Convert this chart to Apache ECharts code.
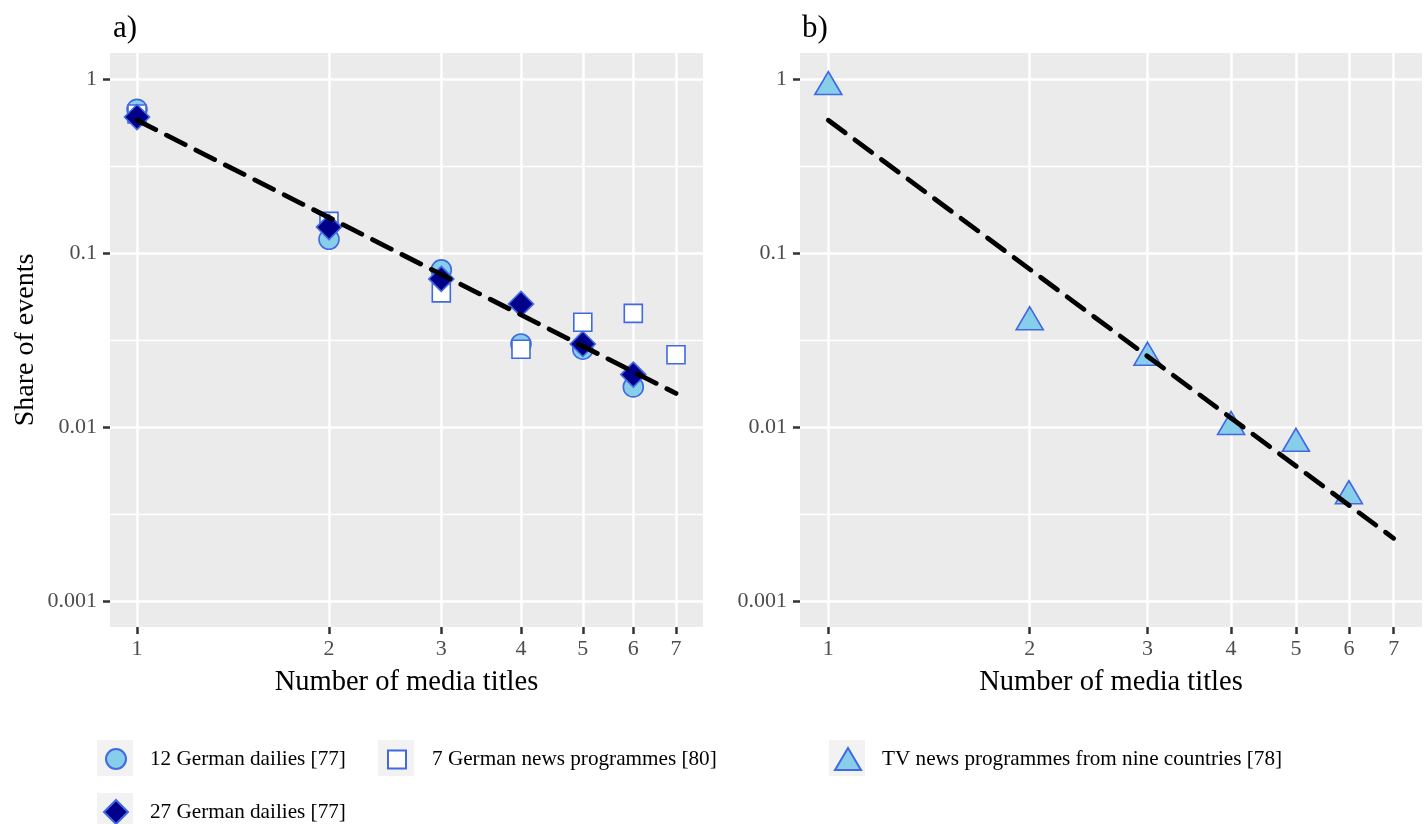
<!DOCTYPE html>
<html><head><meta charset="utf-8">
<script src="https://cdn.jsdelivr.net/npm/echarts@6/dist/echarts.min.js"></script>
<style>html,body{margin:0;padding:0;background:#fff}#c{width:1428px;height:824px}</style>
</head><body><div id="c"></div>
<script>
// ---- data ----
const mediaTitles = [1, 2, 3, 4, 5, 6, 7];
const xTickLabels = [1, 2, 3, 4, 5, 6, 7];
const yTickLabels = [0.001, 0.01, 0.1, 1];
const yMinorBreaks = [0.00316, 0.0316, 0.316];
const dailies12 = [0.67, 0.12, 0.08, 0.030, 0.028, 0.017];
const news7 = [0.63, 0.152, 0.059, 0.028, 0.040, 0.045, 0.026];
const dailies27 = [0.605, 0.141, 0.071, 0.051, 0.030, 0.020];
const tvNine = [0.90, 0.040, 0.025, 0.010, 0.008, 0.004];
const fitAx = [1, 7], fitAy = [0.58, 0.0156];
const fitBx = [1, 7], fitBy = [0.58, 0.00229];
const seriesNames = ['12 German dailies [77]', '7 German news programmes [80]', '27 German dailies [77]', 'TV news programmes from nine countries [78]'];
const panelLabels = ['a)', 'b)'];
const xTitle = 'Number of media titles';
const yTitle = 'Share of events';

const FF = 'Liberation Serif';
const pair = (xs, ys) => ys.map((y, i) => [xs[i], y]);
const X_MIN = 0.9071, X_MAX = 7.717, Y_MIN = 0.000708, Y_MAX = 1.4125;

function xAx(gi) {
  return {
    type: 'log', gridIndex: gi, min: X_MIN, max: X_MAX,
    name: xTitle, nameLocation: 'middle', nameGap: 41,
    nameTextStyle: { fontFamily: FF, fontSize: 28.5, color: '#000' },
    axisLine: { show: false },
    axisTick: { show: true, length: 7, lineStyle: { color: '#333', width: 2.5 }, customValues: xTickLabels },
    axisLabel: { customValues: xTickLabels, fontFamily: FF, fontSize: 22, color: '#4D4D4D', margin: 11,
      formatter: v => String(Math.round(v)) },
    splitLine: { show: true, lineStyle: { color: '#fff', width: 2.5 } },
    minorTick: { show: false }, minorSplitLine: { show: false }
  };
}
function yAx(gi, withName) {
  return {
    type: 'log', gridIndex: gi, min: Y_MIN, max: Y_MAX,
    name: withName ? yTitle : '', nameLocation: 'middle', nameGap: 70,
    nameTextStyle: { fontFamily: FF, fontSize: 28, color: '#000' },
    axisLine: { show: false },
    axisTick: { show: true, length: 7, lineStyle: { color: '#333', width: 2.5 }, customValues: yTickLabels },
    axisLabel: { customValues: yTickLabels, fontFamily: FF, fontSize: 22, color: '#4D4D4D', margin: 13,
      formatter: v => String(v) },
    splitLine: { show: true, lineStyle: { color: '#fff', width: 2.5 } },
    minorTick: { show: false }, minorSplitLine: { show: false }
  };
}
function yMinorAx(gi) {
  return {
    type: 'log', gridIndex: gi, min: Y_MIN, max: Y_MAX, position: 'left',
    axisLine: { show: false },
    axisTick: { show: false, customValues: yMinorBreaks },
    axisLabel: { show: false, customValues: yMinorBreaks },
    splitLine: { show: true, lineStyle: { color: '#fff', width: 1.3 } },
    minorTick: { show: false }, minorSplitLine: { show: false }
  };
}

const blue = '#4169E1';
const legendBase = { orient: 'horizontal', padding: 0, itemGap: 0, selectedMode: false,
  textStyle: { fontFamily: FF, fontSize: 21.2, color: '#000' } };

const option = {
  animation: false,
  backgroundColor: '#fff',
  title: [
    { text: panelLabels[0], left: 108, top: 8, textStyle: { fontFamily: FF, fontSize: 31, fontWeight: 'normal', color: '#000' } },
    { text: panelLabels[1], left: 797, top: 8, textStyle: { fontFamily: FF, fontSize: 31, fontWeight: 'normal', color: '#000' } }
  ],
  grid: [
    { left: 110, top: 53, width: 593, height: 574, backgroundColor: '#EBEBEB', show: true, borderWidth: 0 },
    { left: 800, top: 53, width: 622, height: 574, backgroundColor: '#EBEBEB', show: true, borderWidth: 0 }
  ],
  xAxis: [xAx(0), xAx(1)],
  yAxis: [yAx(0, true), yAx(1, false), yMinorAx(0), yMinorAx(1)],
  graphic: [
    { type: 'rect', shape: { x: 97, y: 740, width: 36, height: 36 }, style: { fill: '#F2F2F2' }, z: -1 },
    { type: 'rect', shape: { x: 378, y: 740, width: 36, height: 36 }, style: { fill: '#F2F2F2' }, z: -1 },
    { type: 'rect', shape: { x: 97, y: 793, width: 36, height: 36 }, style: { fill: '#F2F2F2' }, z: -1 },
    { type: 'rect', shape: { x: 829, y: 740, width: 36, height: 36 }, style: { fill: '#F2F2F2' }, z: -1 }
  ],
  legend: [
    Object.assign({}, legendBase, { data: [seriesNames[0]], left: 105, top: 748, itemWidth: 20, itemHeight: 20,
      textStyle: Object.assign({}, legendBase.textStyle, { padding: [0, 0, 0, 19] }) }),
    Object.assign({}, legendBase, { data: [seriesNames[1]], left: 387, top: 749, itemWidth: 18, itemHeight: 18,
      textStyle: Object.assign({}, legendBase.textStyle, { padding: [0, 0, 0, 21] }) }),
    Object.assign({}, legendBase, { data: [seriesNames[2]], left: 103, top: 799, itemWidth: 24, itemHeight: 24,
      textStyle: Object.assign({}, legendBase.textStyle, { padding: [0, 0, 0, 17] }) }),
    Object.assign({}, legendBase, { data: [seriesNames[3]], left: 834, top: 747, itemWidth: 26, itemHeight: 22,
      textStyle: Object.assign({}, legendBase.textStyle, { padding: [0, 0, 0, 16] }) })
  ],
  series: [
    { name: seriesNames[0], type: 'scatter', xAxisIndex: 0, yAxisIndex: 0, symbol: 'circle', symbolSize: 20,
      itemStyle: { color: '#87CEEB', borderColor: blue, borderWidth: 1.6, opacity: 1 },
      data: pair(mediaTitles, dailies12) },
    { name: seriesNames[1], type: 'scatter', xAxisIndex: 0, yAxisIndex: 0, symbol: 'rect', symbolSize: 18,
      itemStyle: { color: '#FFFFFF', borderColor: blue, borderWidth: 1.6, opacity: 1 },
      data: pair(mediaTitles, news7) },
    { name: seriesNames[2], type: 'scatter', xAxisIndex: 0, yAxisIndex: 0, symbol: 'diamond', symbolSize: 25,
      itemStyle: { color: '#00008B', borderColor: blue, borderWidth: 1.6, opacity: 1 },
      data: pair(mediaTitles, dailies27) },
    { name: 'fitA', type: 'line', xAxisIndex: 0, yAxisIndex: 0, symbol: 'none', z: 5,
      lineStyle: { color: '#000', width: 4.8, type: [21, 12], cap: 'round' },
      data: pair(fitAx, fitAy) },
    { name: seriesNames[3], type: 'scatter', xAxisIndex: 1, yAxisIndex: 1, symbol: 'triangle', symbolSize: [27, 23],
      symbolOffset: [0, -4],
      itemStyle: { color: '#87CEEB', borderColor: blue, borderWidth: 1.6, opacity: 1 },
      data: pair(mediaTitles, tvNine) },
    { name: 'fitB', type: 'line', xAxisIndex: 1, yAxisIndex: 1, symbol: 'none', z: 5,
      lineStyle: { color: '#000', width: 4.8, type: [21, 12], cap: 'round' },
      data: pair(fitBx, fitBy) }
  ]
};
const chart = echarts.init(document.getElementById('c'), null, { renderer: 'canvas' });
chart.setOption(option);
</script></body></html>
